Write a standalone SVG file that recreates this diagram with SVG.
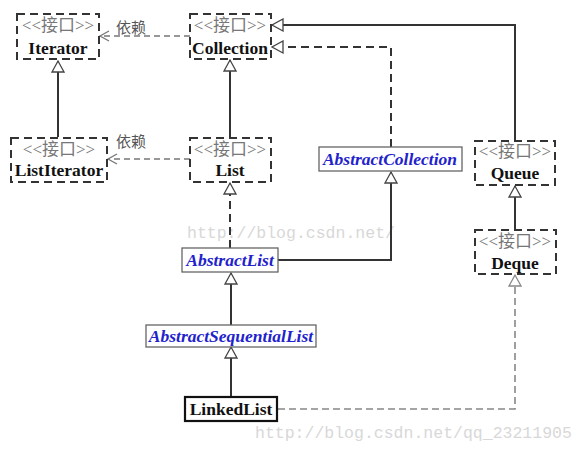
<svg xmlns="http://www.w3.org/2000/svg" width="586" height="452" viewBox="0 0 586 452">
<style>
.ibox{fill:#fff;stroke:#333;stroke-width:2;stroke-dasharray:8 5}
.cbox{fill:#fff;stroke:#666;stroke-width:1.3}
.lbox{fill:#fff;stroke:#111;stroke-width:2.2}
.st{font-family:"Liberation Serif","Noto Sans CJK SC",serif;font-size:17px;fill:#777;text-anchor:middle}
.nm{font-family:"Liberation Serif",serif;font-size:17.5px;font-weight:bold;fill:#111;text-anchor:middle}
.ab{font-family:"Liberation Serif",serif;font-size:17.5px;font-weight:bold;font-style:italic;fill:#2222cc;text-anchor:middle}
.dep{font-family:"Noto Sans CJK SC",sans-serif;font-size:15px;fill:#555}
.wm{font-family:"Liberation Mono",monospace;font-size:16.5px;fill:#d8d8d8}
.gen{fill:none;stroke:#333;stroke-width:2}
.real{fill:none;stroke:#333;stroke-width:2;stroke-dasharray:8 5}
.real2{fill:none;stroke:#888;stroke-width:1.6;stroke-dasharray:7 4}
.use{fill:none;stroke:#777;stroke-width:1.6;stroke-dasharray:6 4}
</style>
<defs>
<marker id="tri" markerUnits="userSpaceOnUse" markerWidth="14" markerHeight="14" refX="11" refY="6" orient="auto" viewBox="-1 -1 14 14">
<path d="M0,0 L11,6 L0,12 Z" fill="#fff" stroke="#444" stroke-width="1.3"/>
</marker>
<marker id="tri2" markerUnits="userSpaceOnUse" markerWidth="14" markerHeight="14" refX="11" refY="6" orient="auto" viewBox="-1 -1 14 14">
<path d="M0,0 L11,6 L0,12 Z" fill="#fff" stroke="#888" stroke-width="1.3"/>
</marker>
<marker id="open" markerUnits="userSpaceOnUse" markerWidth="12" markerHeight="12" refX="9" refY="5" orient="auto" viewBox="-1 -1 12 12">
<path d="M0,0 L9,5 L0,10" fill="none" stroke="#777" stroke-width="1.3"/>
</marker>
</defs>
<text class="wm" x="187" y="238">http://blog.csdn.net/</text>
<text class="wm" x="255" y="438">http://blog.csdn.net/qq_23211905</text>
<g id="connectors">
<path class="gen" d="M58,137 V61" marker-end="url(#tri)"/>
<path class="gen" d="M230,137 V60" marker-end="url(#tri)"/>
<path class="use" d="M190,36 H100" marker-end="url(#open)"/>
<path class="use" d="M190,159 H108" marker-end="url(#open)"/>
<path class="gen" d="M515,140 V25 H272" marker-end="url(#tri)"/>
<path class="real" d="M391,147 V47 H272" marker-end="url(#tri)"/>
<path class="real" d="M230,248 V183" marker-end="url(#tri)"/>
<path class="gen" d="M278,260 H391 V172" marker-end="url(#tri)"/>
<path class="gen" d="M231,325 V273" marker-end="url(#tri)"/>
<path class="gen" d="M231,397 V347" marker-end="url(#tri)"/>
<path class="gen" d="M515,230 V186" marker-end="url(#tri)"/>
<path class="real2" d="M278,409 H515 V275" marker-end="url(#tri2)"/>
<text class="dep" x="116" y="33">依赖</text>
<text class="dep" x="116" y="147">依赖</text>
</g>
<g id="Iterator">
<rect class="ibox" x="17" y="14" width="82" height="45"/>
<text class="st" x="58" y="31">&lt;&lt;接口&gt;&gt;</text>
<text class="nm" x="58" y="54">Iterator</text>
</g>
<g id="Collection">
<rect class="ibox" x="190" y="14" width="81" height="45"/>
<text class="st" x="230" y="31">&lt;&lt;接口&gt;&gt;</text>
<text class="nm" x="230" y="54">Collection</text>
</g>
<g id="ListIterator">
<rect class="ibox" x="11" y="138" width="96" height="44"/>
<text class="st" x="59" y="155">&lt;&lt;接口&gt;&gt;</text>
<text class="nm" x="59" y="176">ListIterator</text>
</g>
<g id="List">
<rect class="ibox" x="190" y="138" width="81" height="44"/>
<text class="st" x="230" y="155">&lt;&lt;接口&gt;&gt;</text>
<text class="nm" x="230" y="176">List</text>
</g>
<g id="AbstractCollection">
<rect class="cbox" x="319" y="147" width="143" height="24"/>
<text class="ab" x="390" y="165">AbstractCollection</text>
</g>
<g id="Queue">
<rect class="ibox" x="475" y="141" width="80" height="44"/>
<text class="st" x="515" y="157">&lt;&lt;接口&gt;&gt;</text>
<text class="nm" x="515" y="179">Queue</text>
</g>
<g id="Deque">
<rect class="ibox" x="475" y="230" width="81" height="44"/>
<text class="st" x="515" y="247">&lt;&lt;接口&gt;&gt;</text>
<text class="nm" x="515" y="269">Deque</text>
</g>
<g id="AbstractList">
<rect class="cbox" x="182" y="248" width="96" height="24"/>
<text class="ab" x="230" y="266">AbstractList</text>
</g>
<g id="AbstractSequentialList">
<rect class="cbox" x="146" y="325" width="170" height="22"/>
<text class="ab" x="231" y="342">AbstractSequentialList</text>
</g>
<g id="LinkedList">
<rect class="lbox" x="185" y="397" width="92" height="24"/>
<text class="nm" x="231" y="415">LinkedList</text>
</g>
</svg>
